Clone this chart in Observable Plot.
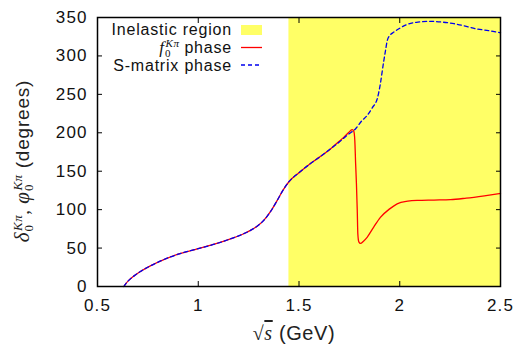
<!DOCTYPE html>
<html><head><meta charset="utf-8">
<script src="https://cdn.jsdelivr.net/npm/d3@7"></script>
<script src="https://cdn.jsdelivr.net/npm/@observablehq/plot@0.6"></script>
<style>
body{margin:0;background:#fff}
#chart svg{font-family:"Liberation Sans",Arial,sans-serif;overflow:visible}
</style>
</head><body><div id="chart"></div>
<script>
// Shared (elastic) part, both phases coincide
const commonX = [0.631,0.64,0.655,0.68,0.713,0.76,0.829,0.9,0.995,1.08,1.16,1.22,1.259,1.3,1.325,1.36,1.392,1.42,1.449,1.5,1.557,1.6,1.656];
const commonY = [0,3.5,8,13.5,19.5,26.5,35,42,49,55,62,68,73,80,86,98,112,125,136,148,160,168,179];
// f0 (K pi) phase beyond the split
const fPhaseX = [1.7,1.722,1.745,1.764,1.772,1.777,1.781,1.785,1.789,1.792,1.797,1.805,1.82,1.838,1.87,1.904,1.95,1.987,2.04,2.086,2.17,2.252,2.33,2.42,2.5];
const fPhaseY = [189,194,200,204,202,190,160,134,100,68.5,58,56,59,64,77,90,101,107.6,111,112,112.5,113,115,118,121];
// S-matrix phase beyond the split
const sPhaseX = [1.7,1.722,1.75,1.78,1.81,1.838,1.865,1.888,1.897,1.904,1.913,1.921,1.93,1.938,1.952,1.971,2.0,2.037,2.09,2.153,2.21,2.269,2.33,2.385,2.44,2.5];
const sPhaseY = [188,193,199,205,215,222.5,233,244,254,264,280,294,308,320,327,331,336,341,344,345,344,342,338.5,335,333,330];
// inelastic region
const inelasticStart = 1.45, inelasticEnd = 2.5;
const xTicks = [0.5,1,1.5,2,2.5];
const xTickLabels = ["0.5","1","1.5","2","2.5"];
const yTicks = [0,50,100,150,200,250,300,350];
const legendLabels = ["Inelastic region","phase","S-matrix phase"];

const fData = commonX.map((x,i)=>({x,y:commonY[i]})).concat(fPhaseX.map((x,i)=>({x,y:fPhaseY[i]})));
const sData = commonX.map((x,i)=>({x,y:commonY[i]})).concat(sPhaseX.map((x,i)=>({x,y:sPhaseY[i]})));

const chart = Plot.plot({
  width:516, height:344,
  marginLeft:97, marginRight:16, marginTop:17, marginBottom:58,
  style:{fontSize:"17px", fontFamily:"Liberation Sans, Arial, sans-serif", background:"white"},
  x:{domain:[0.5,2.5]},
  y:{domain:[0,350]},
  marks:[
    Plot.rect([{x1:inelasticStart,x2:inelasticEnd}],{x1:"x1",x2:"x2",fill:"#ffff66"}),
    Plot.line(fData,{x:"x",y:"y",stroke:"#ff0000",strokeWidth:1.3,curve:"monotone-x"}),
    Plot.line(sData,{x:"x",y:"y",stroke:"#0000ee",strokeWidth:1.3,strokeDasharray:"4,3",curve:"monotone-x"}),
    Plot.axisX({ticks:xTicks,tickSize:-5,tickPadding:17,tickFormat:(d)=>xTickLabels[xTicks.indexOf(d)],label:null,fill:"#111"}),
    Plot.axisX({anchor:"top",ticks:xTicks,tickSize:-5,tickFormat:()=>"",label:null}),
    Plot.axisY({ticks:yTicks,tickSize:-5,tickPadding:15,label:null,fill:"#111"}),
    Plot.axisY({anchor:"right",ticks:yTicks,tickSize:-5,tickFormat:()=>"",label:null}),
    Plot.frame({stroke:"black",strokeWidth:1.5})
  ]
});
document.getElementById("chart").appendChild(chart);

const svg = d3.select(chart);
svg.selectAll("[aria-label$='tick label'] text").attr("letter-spacing","1.1");

const serif = "'Liberation Serif','DejaVu Serif',serif";
// Legend
const lg = svg.append("g").attr("font-size",16).attr("fill","#111").attr("letter-spacing","0.8");
lg.append("text").attr("x",232).attr("y",34.5).attr("text-anchor","end").text(legendLabels[0]);
lg.append("rect").attr("x",241).attr("y",25).attr("width",21).attr("height",10).attr("fill","#ffff66");
const t2 = lg.append("text").attr("x",232).attr("y",53).attr("text-anchor","end");
t2.append("tspan").attr("font-family",serif).attr("font-style","italic").attr("font-size",17).attr("letter-spacing","0").text("f");
t2.append("tspan").attr("font-family",serif).attr("font-size",11).attr("letter-spacing","0").attr("dx",1).attr("dy",3.5).text("0");
t2.append("tspan").attr("font-family",serif).attr("font-style","italic").attr("font-size",11).attr("letter-spacing","0.5").attr("dx",-5).attr("dy",-9.5).text("Kπ");
t2.append("tspan").attr("dy",6).attr("dx",5).text(legendLabels[1]);
lg.append("line").attr("x1",241).attr("x2",262).attr("y1",47.5).attr("y2",47.5).attr("stroke","#ff0000").attr("stroke-width",1.3);
lg.append("text").attr("x",232).attr("y",70.5).attr("text-anchor","end").text(legendLabels[2]);
lg.append("line").attr("x1",241).attr("x2",262).attr("y1",65).attr("y2",65).attr("stroke","#0000ee").attr("stroke-width",1.3).attr("stroke-dasharray","4,3");

// Y label
const yl = svg.append("text").attr("transform","translate(29,161) rotate(-90)").attr("text-anchor","middle").attr("fill","#222").attr("font-size",19).attr("letter-spacing","0.8");
yl.append("tspan").attr("font-family",serif).attr("font-style","italic").attr("font-size",21).attr("letter-spacing","0").text("δ");
yl.append("tspan").attr("font-family",serif).attr("font-size",13).attr("letter-spacing","0").attr("dx",1).attr("dy",4).text("0");
yl.append("tspan").attr("font-family",serif).attr("font-style","italic").attr("font-size",13).attr("letter-spacing","0.5").attr("dx",-6).attr("dy",-11).text("Kπ");
yl.append("tspan").attr("font-family",serif).attr("dy",7).text(", ");
yl.append("tspan").attr("font-family",serif).attr("font-style","italic").attr("font-size",21).attr("letter-spacing","0").text("φ");
yl.append("tspan").attr("font-family",serif).attr("font-size",13).attr("letter-spacing","0").attr("dx",1).attr("dy",4).text("0");
yl.append("tspan").attr("font-family",serif).attr("font-style","italic").attr("font-size",13).attr("letter-spacing","0.5").attr("dx",-6).attr("dy",-11).text("Kπ");
yl.append("tspan").attr("dy",7).text(" (degrees)");

// X label
const xl = svg.append("text").attr("x",294).attr("y",340).attr("text-anchor","middle").attr("fill","#222").attr("font-size",20).attr("letter-spacing","0.6");
xl.append("tspan").attr("font-family",serif).text("√");
xl.append("tspan").attr("font-family",serif).attr("font-style","italic").attr("text-decoration","overline").text("s");
xl.append("tspan").text(" (GeV)");
</script>
</body></html>
